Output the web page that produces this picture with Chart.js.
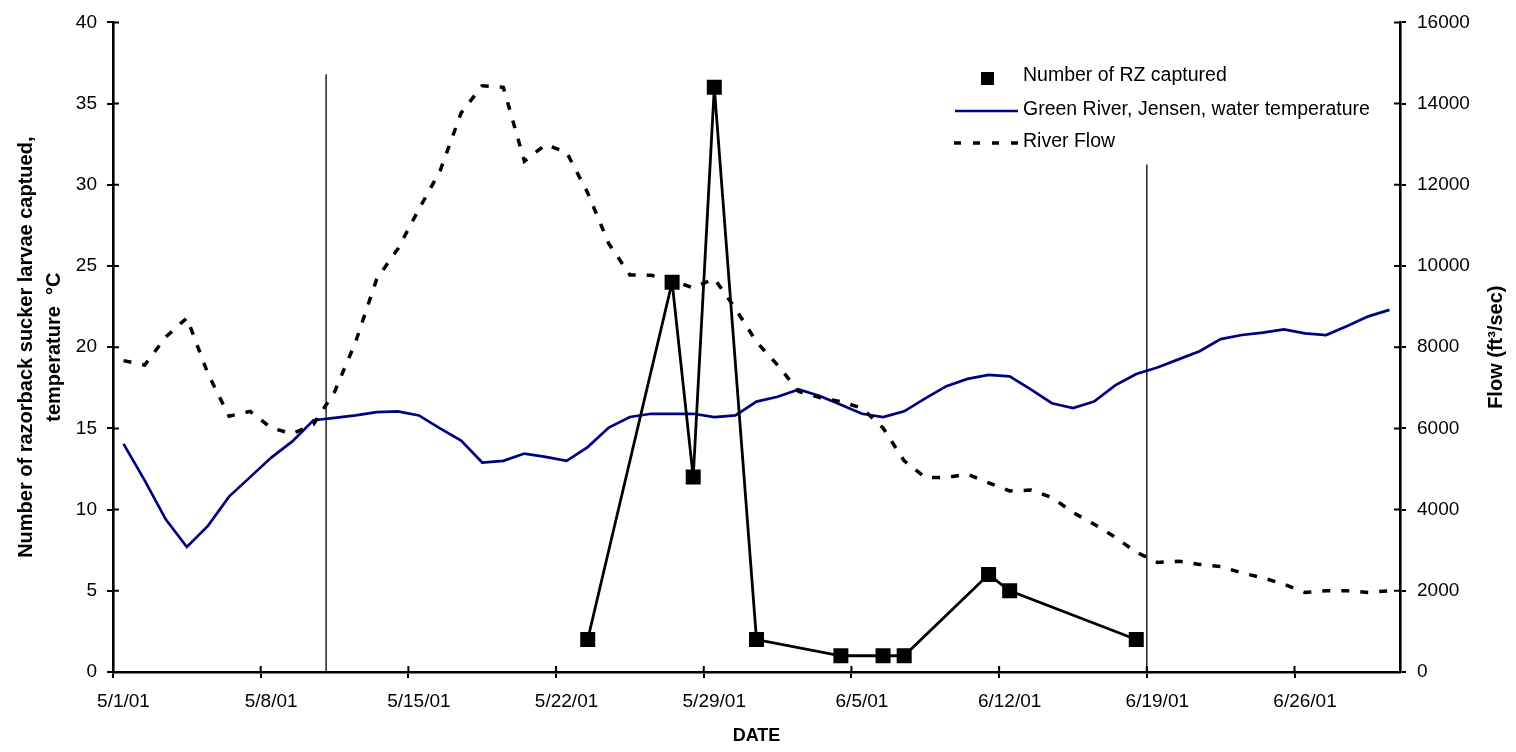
<!DOCTYPE html>
<html>
<head>
<meta charset="utf-8">
<script src="https://cdn.jsdelivr.net/npm/chart.js@4/dist/chart.umd.min.js"></script>
<style>
  html, body { margin: 0; padding: 0; background: #fff; }
  #wrap { width: 1516px; height: 752px; }
</style>
</head>
<body>
<div id="wrap"><canvas id="flowChart"></canvas></div>
<script>
// daily categories, 5/1/01 .. 6/30/01
const dates = [
  '5/1/01','5/2/01','5/3/01','5/4/01','5/5/01','5/6/01','5/7/01','5/8/01','5/9/01','5/10/01',
  '5/11/01','5/12/01','5/13/01','5/14/01','5/15/01','5/16/01','5/17/01','5/18/01','5/19/01','5/20/01',
  '5/21/01','5/22/01','5/23/01','5/24/01','5/25/01','5/26/01','5/27/01','5/28/01','5/29/01','5/30/01',
  '5/31/01','6/1/01','6/2/01','6/3/01','6/4/01','6/5/01','6/6/01','6/7/01','6/8/01','6/9/01',
  '6/10/01','6/11/01','6/12/01','6/13/01','6/14/01','6/15/01','6/16/01','6/17/01','6/18/01','6/19/01',
  '6/20/01','6/21/01','6/22/01','6/23/01','6/24/01','6/25/01','6/26/01','6/27/01','6/28/01','6/29/01',
  '6/30/01'
];

// Green River, Jensen, water temperature (°C)
const waterTemp = [
  14.05, 11.8, 9.4, 7.7, 9.0, 10.8, 12.0, 13.2, 14.2, 15.5,
  15.65, 15.8, 16.0, 16.05, 15.8, 15.0, 14.25, 12.9, 13.0, 13.45,
  13.25, 13.0, 13.85, 15.05, 15.7, 15.9, 15.9, 15.9, 15.7, 15.8,
  16.65, 16.95, 17.4, 17.0, 16.45, 15.9, 15.7, 16.05, 16.85, 17.6,
  18.05, 18.3, 18.2, 17.4, 16.55, 16.25, 16.65, 17.65, 18.35, 18.75,
  19.25, 19.75, 20.5, 20.75, 20.9, 21.1, 20.85, 20.75, 21.3, 21.9,
  22.3
];

// River flow (ft3/sec)
const riverFlow = [
  7670, 7560, 8250, 8720, 7350, 6300, 6420, 6010, 5870, 6100,
  6900, 8130, 9680, 10420, 11400, 12340, 13770, 14440, 14400, 12580,
  12990, 12800, 11800, 10550, 9780, 9770, 9650, 9460, 9690, 8950,
  8130, 7560, 6910, 6760, 6660, 6500, 6010, 5200, 4790, 4790,
  4870, 4660, 4460, 4480, 4300, 3930, 3640, 3320, 2950, 2700,
  2730, 2650, 2600, 2440, 2320, 2160, 1960, 2000, 2000, 1960,
  2000
];

// Number of RZ captured
const rzDates = ['5/23/01','5/27/01','5/28/01','5/29/01','5/31/01','6/4/01','6/6/01','6/7/01','6/11/01','6/12/01','6/18/01'];
const rzCount = [2, 24, 12, 36, 2, 1, 1, 1, 6, 5, 2];

// axis ticks
const dateTickIdx = [0, 7, 14, 21, 28, 35, 42, 49, 56];
const leftTicks = [0, 5, 10, 15, 20, 25, 30, 35, 40];
const rightTicks = [0, 2000, 4000, 6000, 8000, 10000, 12000, 14000, 16000];

// thin vertical marker lines (in days from 5/1/01, left-axis top value)
const markerDay = [10.1, 49.0];
const markerTop = [36.8, 31.25];

const FONT = '"Liberation Sans", Arial, sans-serif';
const NAVY = '#000080';

// points sit in the middle of each day
const slot = i => i + 0.5;
const tempPts = waterTemp.map((v, i) => ({ x: slot(i), y: v }));
const flowPts = riverFlow.map((v, i) => ({ x: slot(i), y: v }));
const rzPts = rzDates.map((d, i) => ({ x: slot(dates.indexOf(d)), y: rzCount[i] }));

const markerSets = markerDay.map((d, i) => ({
  data: [{ x: d, y: 0 }, { x: d, y: markerTop[i] }],
  borderColor: '#000',
  borderWidth: 1.3,
  pointRadius: 0,
  yAxisID: 'y',
  order: 10
}));

// tick marks crossing the axis lines (inside part)
const innerTicks = {
  id: 'innerTicks',
  afterDraw(chart) {
    const { ctx, chartArea: a, scales } = chart;
    ctx.save();
    ctx.strokeStyle = '#000';
    ctx.lineWidth = 2;
    ctx.beginPath();
    scales.x.ticks.forEach(t => {
      const px = scales.x.getPixelForValue(t.value);
      ctx.moveTo(px, a.bottom); ctx.lineTo(px, a.bottom - 6);
    });
    scales.y.ticks.forEach(t => {
      const py = scales.y.getPixelForValue(t.value);
      ctx.moveTo(a.left, py); ctx.lineTo(a.left + 6, py);
    });
    scales.y2.ticks.forEach(t => {
      const py = scales.y2.getPixelForValue(t.value);
      ctx.moveTo(a.right, py); ctx.lineTo(a.right - 6, py);
    });
    ctx.stroke();
    ctx.restore();
  }
};

// right axis title, reading bottom to top
const rightTitle = {
  id: 'rightTitle',
  afterDraw(chart) {
    const { ctx, chartArea: a } = chart;
    ctx.save();
    ctx.translate(1496, (a.top + a.bottom) / 2);
    ctx.rotate(-Math.PI / 2);
    ctx.font = 'bold 20px ' + FONT;
    ctx.fillStyle = '#000';
    ctx.textAlign = 'center';
    ctx.textBaseline = 'middle';
    ctx.fillText('Flow (ft³/sec)', 0, 0);
    ctx.restore();
  }
};

// legend drawn in the upper right of the plot
const legendBox = {
  id: 'legendBox',
  afterDraw(chart) {
    const ctx = chart.ctx;
    ctx.save();
    ctx.fillStyle = '#000';
    ctx.fillRect(981, 72, 13, 13);

    ctx.strokeStyle = NAVY;
    ctx.lineWidth = 2.7;
    ctx.beginPath(); ctx.moveTo(955, 111); ctx.lineTo(1018, 111); ctx.stroke();

    ctx.strokeStyle = '#000';
    ctx.lineWidth = 3.5;
    ctx.setLineDash([7, 12]);
    ctx.beginPath(); ctx.moveTo(954, 143); ctx.lineTo(1018, 143); ctx.stroke();
    ctx.setLineDash([]);

    ctx.font = '19.5px ' + FONT;
    ctx.textBaseline = 'middle';
    ctx.textAlign = 'left';
    ctx.fillText('Number of RZ captured', 1023, 76);
    ctx.fillText('Green River, Jensen, water temperature', 1023, 110);
    ctx.fillText('River Flow', 1023, 142);
    ctx.restore();
  }
};

const tickFont = { family: FONT, size: 19 };
const titleFont = { family: FONT, size: 20, weight: 'bold', lineHeight: 1.4 };

new Chart(document.getElementById('flowChart'), {
  type: 'line',
  data: {
    datasets: [
      {
        label: 'Number of RZ captured',
        data: rzPts,
        borderColor: '#000',
        backgroundColor: '#000',
        borderWidth: 2.8,
        pointStyle: 'rect',
        pointRadius: 10.6,
        pointBorderWidth: 0,
        yAxisID: 'y',
        order: 0
      },
      {
        label: 'River Flow',
        data: flowPts,
        borderColor: '#000',
        borderWidth: 3.5,
        borderDash: [8, 11],
        pointRadius: 0,
        yAxisID: 'y2',
        order: 1
      },
      {
        label: 'Green River, Jensen, water temperature',
        data: tempPts,
        borderColor: NAVY,
        borderWidth: 2.7,
        pointRadius: 0,
        yAxisID: 'y',
        order: 2
      },
      ...markerSets
    ]
  },
  options: {
    responsive: true,
    maintainAspectRatio: false,
    animation: false,
    layout: { padding: { top: 19, left: 0, right: 0, bottom: 0 } },
    plugins: { legend: { display: false }, tooltip: { enabled: false } },
    scales: {
      x: {
        type: 'linear',
        min: 0,
        max: dates.length,
        afterBuildTicks: s => { s.ticks = dateTickIdx.map(v => ({ value: v })); },
        afterFit: s => { s.height = 80; },
        ticks: {
          color: '#000',
          font: tickFont,
          padding: 12,
          labelOffset: 10.5,
          maxRotation: 0,
          callback: v => dates[v]
        },
        grid: { drawOnChartArea: false, drawTicks: true, tickLength: 6, color: '#000', lineWidth: 2 },
        border: { display: true, color: '#000', width: 2.6 },
        title: {
          display: true, text: 'DATE', color: '#000',
          font: { family: FONT, size: 18, weight: 'bold', lineHeight: 1.4 },
          padding: { top: 0, bottom: 3 }
        }
      },
      y: {
        position: 'left',
        min: 0,
        max: 40,
        afterBuildTicks: s => { s.ticks = leftTicks.map(v => ({ value: v })); },
        afterFit: s => { s.width = 113; },
        ticks: { color: '#000', font: tickFont, padding: 10 },
        grid: { drawOnChartArea: false, drawTicks: true, tickLength: 6, color: '#000', lineWidth: 2 },
        border: { display: true, color: '#000', width: 2.6 },
        title: {
          display: true,
          text: ['Number of razorback sucker larvae captued,', 'temperature  °C'],
          color: '#000',
          font: titleFont,
          padding: { top: 12, bottom: 0 }
        }
      },
      y2: {
        position: 'right',
        min: 0,
        max: 16000,
        afterBuildTicks: s => { s.ticks = rightTicks.map(v => ({ value: v })); },
        afterFit: s => { s.width = 116; },
        ticks: { color: '#000', font: tickFont, padding: 11, callback: v => String(v) },
        grid: { drawOnChartArea: false, drawTicks: true, tickLength: 6, color: '#000', lineWidth: 2 },
        border: { display: true, color: '#000', width: 2.6 }
      }
    }
  },
  plugins: [innerTicks, rightTitle, legendBox]
});
</script>
</body>
</html>
